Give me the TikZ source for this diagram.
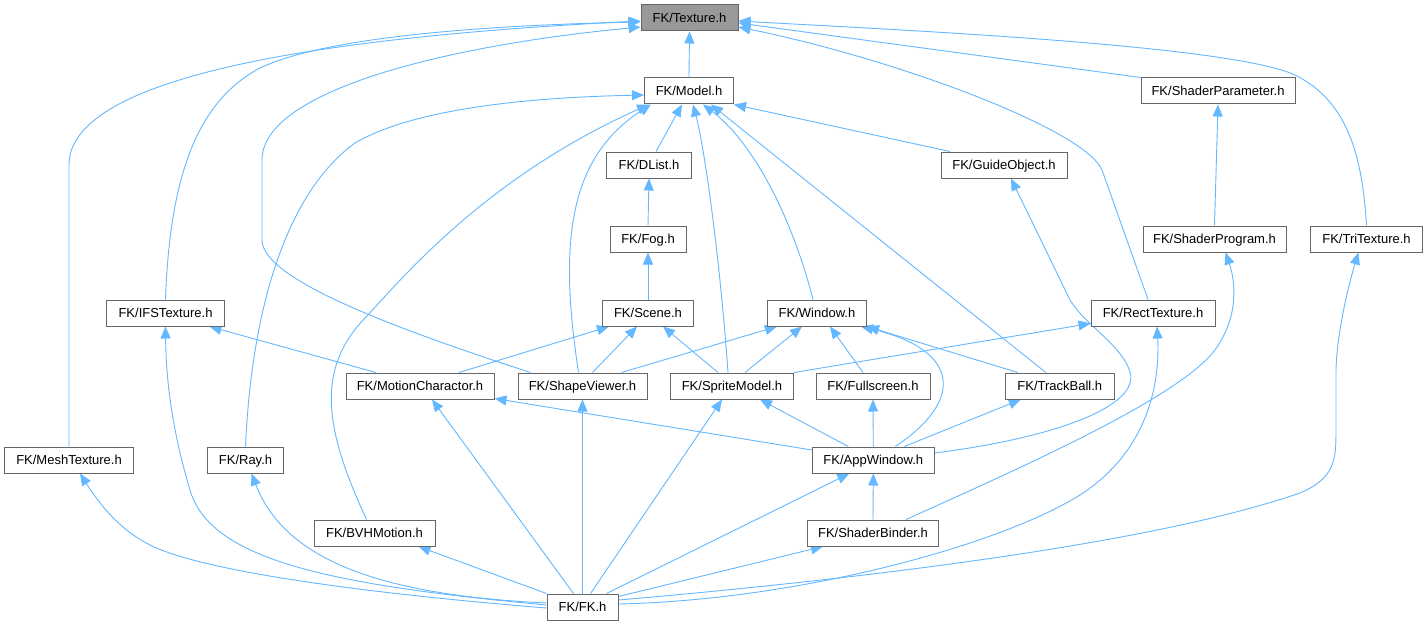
\documentclass[tikz,border=0pt]{standalone}
\usepackage{fontspec}
\setmainfont{Liberation Sans}
\usetikzlibrary{arrows.meta,backgrounds}
\definecolor{edgeblue}{HTML}{63B8FF}
\definecolor{boxgray}{HTML}{666666}
\definecolor{fillgray}{HTML}{999999}
\begin{document}
\begin{tikzpicture}[x=1pt,y=-1pt,
  box/.style={draw=boxgray,fill=white,line width=1pt,minimum height=26pt,inner sep=0pt,text height=10.3pt,text depth=1pt,font=\fontsize{13}{15}\selectfont,text=black},
  edge/.style={draw=edgeblue,line width=0.9pt,-{Triangle[length=12pt,width=10pt]}}]
\useasboundingbox (0,0) rectangle (1428,626);
% nodes
\node[box,fill=fillgray,minimum width=97pt] (Texture) at (689.5,18) {FK/Texture.h};
\node[box,minimum width=89pt] (Model) at (689,91) {FK/Model.h};
\node[box,minimum width=154pt] (ShaderParameter) at (1218,91) {FK/ShaderParameter.h};
\node[box,minimum width=85pt] (DList) at (649,165) {FK/DList.h};
\node[box,minimum width=126pt] (GuideObject) at (1004,165) {FK/GuideObject.h};
\node[box,minimum width=76pt] (Fog) at (648,239) {FK/Fog.h};
\node[box,minimum width=143pt] (ShaderProgram) at (1214.5,239) {FK/ShaderProgram.h};
\node[box,minimum width=112pt] (TriTexture) at (1366.5,239) {FK/TriTexture.h};
\node[box,minimum width=117.5pt] (IFSTexture) at (165.5,313) {FK/IFSTexture.h};
\node[box,minimum width=91pt] (Scene) at (648,313) {FK/Scene.h};
\node[box,minimum width=99pt] (Window) at (817,313) {FK/Window.h};
\node[box,minimum width=124pt] (RectTexture) at (1153,313) {FK/RectTexture.h};
\node[box,minimum width=148pt] (MotionCharactor) at (420,386) {FK/MotionCharactor.h};
\node[box,minimum width=129pt] (ShapeViewer) at (582.5,386) {FK/ShapeViewer.h};
\node[box,minimum width=123pt] (SpriteModel) at (732,386) {FK/SpriteModel.h};
\node[box,minimum width=114pt] (Fullscreen) at (873,386) {FK/Fullscreen.h};
\node[box,minimum width=109pt] (TrackBall) at (1059.8,386) {FK/TrackBall.h};
\node[box,minimum width=129pt] (MeshTexture) at (69,460) {FK/MeshTexture.h};
\node[box,minimum width=76pt] (Ray) at (245.5,460) {FK/Ray.h};
\node[box,minimum width=122pt] (AppWindow) at (873.3,460) {FK/AppWindow.h};
\node[box,minimum width=121pt] (BVHMotion) at (374.5,533) {FK/BVHMotion.h};
\node[box,minimum width=131pt] (ShaderBinder) at (873,533) {FK/ShaderBinder.h};
\node[box,minimum width=71pt] (FK) at (582.5,607) {FK/FK.h};
% edges
\begin{scope}[on background layer]
\fill[white] (0,0) rectangle (1428,626);
% to Texture
\draw[edge] (Model.north) -- (Texture.south);
\draw[edge] (MeshTexture.north) -- (69,165) .. controls (69,80) and (300,38) .. ([yshift=-3pt]Texture.west);
\draw[edge] (IFSTexture.north) .. controls (170,170) and (200,100) .. (260,68) .. controls (330,35) and (500,25) .. ([yshift=-4pt]Texture.west);
\draw[edge] ([xshift=-52pt]ShapeViewer.north) .. controls (400,330) and (262,280) .. (262,240) -- (262,160) .. controls (262,90) and (450,45) .. ([yshift=-9pt]Texture.west);
\draw[edge] (ShaderParameter.north west) -- ([yshift=-5pt]Texture.east);
\draw[edge] (TriTexture.north) .. controls (1362,150) and (1345,100) .. (1295,75) .. controls (1230,45) and (900,30) .. ([yshift=-3pt]Texture.east);
\draw[edge] ([xshift=-5pt]RectTexture.north) -- (1102,170) .. controls (1085,130) and (900,60) .. ([yshift=-9pt]Texture.east);
% to Model
\draw[edge] ([xshift=7pt]DList.north) -- ([xshift=-7pt]Model.south);
\draw[edge] ([xshift=-54pt]GuideObject.north) -- (Model.south east);
\draw[edge] (Ray.north) .. controls (252,300) and (290,190) .. (355,143) .. controls (420,105) and (550,97) .. ([yshift=-4pt]Model.west);
\draw[edge] ([xshift=-8pt]BVHMotion.north) .. controls (325,430) and (315,370) .. (365,318) .. controls (395,287) and (480,180) .. ([xshift=-40pt]Model.south);
\draw[edge] ([xshift=-4pt]ShapeViewer.north) .. controls (560,250) and (565,160) .. ([xshift=-38pt]Model.south);
\draw[edge] ([xshift=-4pt]SpriteModel.north) .. controls (720,260) and (705,150) .. ([xshift=4pt]Model.south);
\draw[edge] ([xshift=-4pt]Window.north) .. controls (790,210) and (750,140) .. ([xshift=14pt]Model.south);
\draw[edge] ([xshift=-14pt]TrackBall.north) -- ([xshift=22pt]Model.south);
% chains
\draw[edge] (ShaderProgram.north) -- (ShaderParameter.south);
\draw[edge] (Fog.north) -- (DList.south);
\draw[edge] (Scene.north) -- (Fog.south);
\draw[edge] ([yshift=7pt]AppWindow.east) .. controls (1060,437) and (1140,405) .. (1130,372) .. controls (1122,345) and (1085,325) .. (1070,300) -- ([xshift=7pt]GuideObject.south);
% to Scene
\draw[edge] ([xshift=39pt]MotionCharactor.north) -- ([xshift=-39pt]Scene.south);
\draw[edge] ([xshift=10pt]ShapeViewer.north) -- ([xshift=-11pt]Scene.south);
\draw[edge] ([xshift=-14pt]SpriteModel.north) -- ([xshift=15pt]Scene.south);
% to Window
\draw[edge] ([xshift=39pt]ShapeViewer.north) -- ([xshift=-40pt]Window.south);
\draw[edge] ([xshift=13pt]SpriteModel.north) -- ([xshift=-15pt]Window.south);
\draw[edge] ([xshift=-10pt]Fullscreen.north) -- ([xshift=13pt]Window.south);
\draw[edge] ([xshift=-42pt]TrackBall.north) -- (Window.south east);
\draw[edge] ([xshift=22pt]AppWindow.north) .. controls (965,400) and (960,350) .. ([xshift=-6pt]Window.south east);
% to RectTexture, IFSTexture
\draw[edge] (SpriteModel.north east) -- ([yshift=3pt]RectTexture.south west);
\draw[edge] ([xshift=-44pt]MotionCharactor.north) -- ([xshift=44pt]IFSTexture.south);
\draw[edge] ([yshift=2pt]FK.west) .. controls (330,585) and (210,560) .. (190,490) .. controls (172,430) and (166,380) .. (IFSTexture.south);
% AppWindow
\draw[edge] ([yshift=10pt]AppWindow.west) -- ([yshift=1pt]MotionCharactor.south east);
\draw[edge] ([xshift=-25pt]AppWindow.north) -- ([xshift=28pt]SpriteModel.south);
\draw[edge] (AppWindow.north) -- (Fullscreen.south);
\draw[edge] ([xshift=31pt]AppWindow.north) -- ([xshift=-39pt]TrackBall.south);
\draw[edge] (ShaderBinder.north) -- (AppWindow.south);
\draw[edge] ([xshift=33pt]ShaderBinder.north) .. controls (1050,455) and (1180,395) .. (1215,350) .. controls (1240,315) and (1235,280) .. ([xshift=11pt]ShaderProgram.south);
% from FK
\draw[edge] ([xshift=-9pt]FK.north) -- ([xshift=12pt]MotionCharactor.south);
\draw[edge] (FK.north) -- (ShapeViewer.south);
\draw[edge] ([xshift=8pt]FK.north) -- ([xshift=-10pt]SpriteModel.south);
\draw[edge] ([xshift=24pt]FK.north) -- ([xshift=-24pt]AppWindow.south);
\draw[edge] ([yshift=-1pt]FK.west) .. controls (350,592) and (200,570) .. (150,545) .. controls (120,530) and (100,505) .. ([xshift=11pt]MeshTexture.south);
\draw[edge] ([yshift=4pt]FK.west) .. controls (380,595) and (285,560) .. ([xshift=6pt]Ray.south);
\draw[edge] (FK.north west) -- ([xshift=44pt]BVHMotion.south);
\draw[edge] ([yshift=-3pt]FK.north east) -- ([xshift=-50pt]ShaderBinder.south);
\draw[edge] ([yshift=3pt]FK.east) .. controls (800,600) and (1000,545) .. (1080,495) .. controls (1150,450) and (1160,380) .. ([xshift=4pt]RectTexture.south);
\draw[edge] ([yshift=7pt]FK.east) .. controls (850,580) and (1150,545) .. (1300,493) .. controls (1335,478) and (1336,460) .. (1336,430) -- (1336,370) .. controls (1337,330) and (1350,280) .. ([xshift=-8pt]TriTexture.south);
\end{scope}
\end{tikzpicture}
\end{document}
